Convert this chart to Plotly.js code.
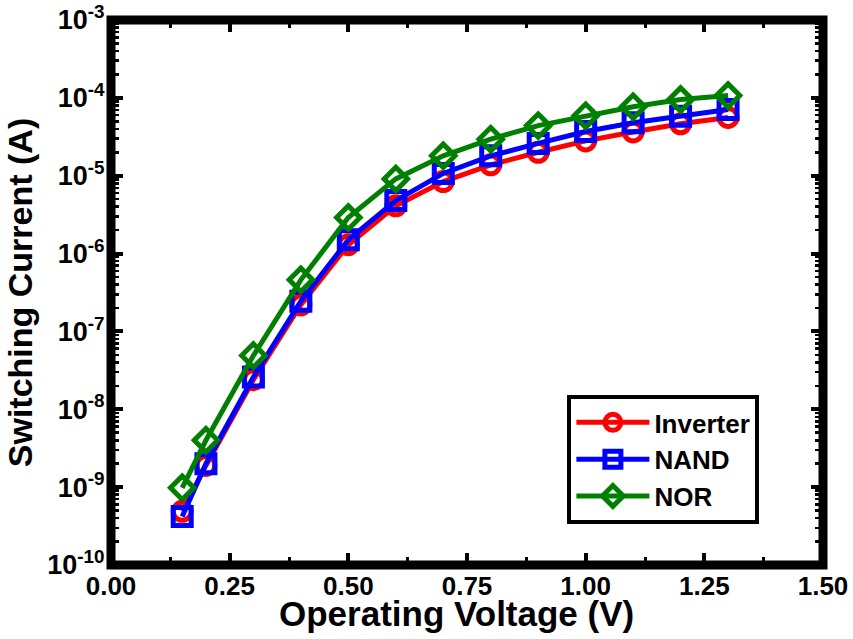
<!DOCTYPE html>
<html>
<head>
<meta charset="utf-8">
<script src="https://cdn.plot.ly/plotly-3.0.1.min.js"></script>
<style>
  html, body { margin: 0; padding: 0; background: #ffffff; }
  #chart { width: 853px; height: 639px; }
</style>
</head>
<body>
<div id="chart"></div>
<script>
// Operating voltage (V)
const voltage = [0.15, 0.2, 0.3, 0.4, 0.5, 0.6, 0.7, 0.8, 0.9, 1.0, 1.1, 1.2, 1.3];

// Switching current (A) for each gate
const inverterCurrent = [4.9e-10, 1.9e-9, 2.4e-8, 2.2e-7, 1.3e-6, 4.1e-6, 8.4e-6, 1.38e-5, 2.0e-5, 2.8e-5, 3.65e-5, 4.65e-5, 5.6e-5];
const nandCurrent     = [4.2e-10, 2.0e-9, 2.6e-8, 2.45e-7, 1.5e-6, 4.8e-6, 1.07e-5, 1.8e-5, 2.6e-5, 3.7e-5, 4.8e-5, 5.8e-5, 7.1e-5];
const norCurrent      = [9.8e-10, 4.0e-9, 4.9e-8, 4.6e-7, 2.9e-6, 9.1e-6, 1.8e-5, 2.95e-5, 4.4e-5, 5.9e-5, 7.7e-5, 9.5e-5, 1.07e-4];

// Axis ticks
const xTickVals = [0, 0.25, 0.5, 0.75, 1.0, 1.25, 1.5];
const xTickText = ['0.00', '0.25', '0.50', '0.75', '1.00', '1.25', '1.50'];
const yTickVals = [1e-10, 1e-9, 1e-8, 1e-7, 1e-6, 1e-5, 1e-4, 1e-3];
const yTickText = ['10<sup>-10</sup>', '10<sup>-9</sup>', '10<sup>-8</sup>', '10<sup>-7</sup>',
                   '10<sup>-6</sup>', '10<sup>-5</sup>', '10<sup>-4</sup>', '10<sup>-3</sup>'];

const X_TITLE = 'Operating Voltage (V)';
const Y_TITLE = 'Switching Current (A)';

const FONT = 'Liberation Sans, Arial, sans-serif';

function series(name, y, color, symbol) {
  return {
    type: 'scatter',
    mode: 'lines+markers',
    name: name,
    x: voltage,
    y: y,
    line: { color: color, width: 5 },
    marker: { symbol: symbol, size: 18, color: color, line: { color: color, width: 5 } },
    cliponaxis: false
  };
}

const traces = [
  series('Inverter', inverterCurrent, '#ff0000', 'circle-open'),
  series('NAND', nandCurrent, '#0000ff', 'square-open'),
  series('NOR', norCurrent, '#008000', 'diamond-open')
];

const layout = {
  width: 853,
  height: 639,
  margin: { l: 111, r: 30, t: 20, b: 74 },
  paper_bgcolor: '#ffffff',
  plot_bgcolor: '#ffffff',
  showlegend: true,
  font: { family: FONT, color: '#000000', weight: 'bold' },
  xaxis: {
    range: [0, 1.5],
    tickmode: 'array',
    tickvals: xTickVals,
    ticktext: xTickText,
    ticks: 'inside',
    ticklen: 12,
    tickwidth: 4,
    tickcolor: '#000000',
    showline: true,
    linewidth: 1,
    linecolor: '#000000',
    mirror: 'ticks',
    showgrid: false,
    zeroline: false,
    ticklabelstandoff: -2,
    tickfont: { family: FONT, size: 26, color: '#000000', weight: 'bold' },
    minor: { dtick: 0.125, ticks: 'inside', ticklen: 8, tickwidth: 3, tickcolor: '#000000', showgrid: false },
    automargin: false
  },
  yaxis: {
    type: 'log',
    range: [-10, -3],
    tickmode: 'array',
    tickvals: yTickVals,
    ticktext: yTickText,
    ticks: 'inside',
    ticklen: 12,
    tickwidth: 4,
    tickcolor: '#000000',
    showline: true,
    linewidth: 1,
    linecolor: '#000000',
    mirror: 'ticks',
    showgrid: false,
    zeroline: false,
    tickfont: { family: FONT, size: 27, color: '#000000', weight: 'bold' },
    minor: { dtick: 'D1', ticks: 'inside', ticklen: 8, tickwidth: 2.5, tickcolor: '#000000', showgrid: false },
    title: { text: Y_TITLE, font: { family: FONT, size: 34, color: '#000000', weight: 'bold' }, standoff: 4 },
    automargin: false
  },
  legend: {
    x: 0.641,
    y: 0.312,
    xanchor: 'left',
    yanchor: 'top',
    bgcolor: '#ffffff',
    bordercolor: '#000000',
    borderwidth: 4,
    itemwidth: 73,
    entrywidth: 190,
    font: { family: FONT, size: 26, color: '#000000', weight: 'bold' }
  },
  annotations: [
    // x-axis title, set just under the tick labels
    { text: X_TITLE, xref: 'paper', yref: 'paper', x: 0.485, y: -0.0892,
      xanchor: 'center', yanchor: 'middle', showarrow: false,
      font: { family: FONT, size: 35, color: '#000000', weight: 'bold' } }
  ],
  shapes: [
    // heavy frame round the plotting area
    { type: 'rect', xref: 'paper', yref: 'paper', x0: 0, x1: 1, y0: 0, y1: 1,
      line: { color: '#000000', width: 9 }, fillcolor: 'rgba(0,0,0,0)', layer: 'above' }
  ]
};

Plotly.newPlot('chart', traces, layout, { displayModeBar: false, staticPlot: true });
</script>
</body>
</html>
